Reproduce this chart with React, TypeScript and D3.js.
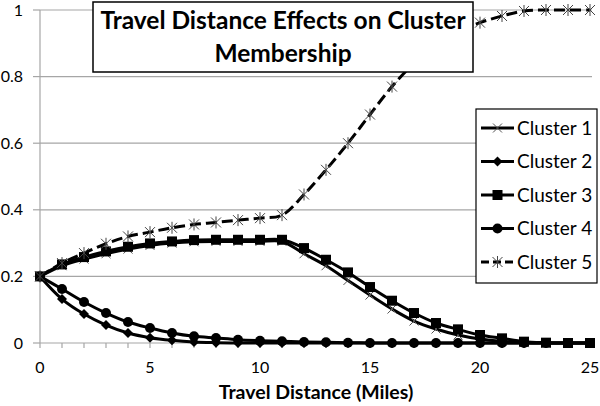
import React from "react";
import * as d3 from "d3";

const distance = d3.range(0, 26);
const cluster1 = [0.2, 0.232, 0.252, 0.268, 0.282, 0.293, 0.3, 0.304, 0.305, 0.305, 0.305, 0.305, 0.268, 0.232, 0.188, 0.144, 0.102, 0.066, 0.042, 0.024, 0.012, 0.005, 0.001, 0, 0, 0];
const cluster2 = [0.2, 0.132, 0.087, 0.054, 0.03, 0.016, 0.008, 0.003, 0.001, 0, 0, 0, 0, 0, 0, 0, 0, 0, 0, 0, 0, 0, 0, 0, 0, 0];
const cluster3 = [0.2, 0.236, 0.258, 0.275, 0.289, 0.299, 0.305, 0.309, 0.31, 0.31, 0.31, 0.31, 0.285, 0.25, 0.212, 0.168, 0.127, 0.09, 0.06, 0.041, 0.024, 0.014, 0.004, 0.001, 0, 0];
const cluster4 = [0.2, 0.162, 0.123, 0.09, 0.063, 0.045, 0.03, 0.02, 0.015, 0.01, 0.007, 0.005, 0.003, 0.002, 0.001, 0, 0, 0, 0, 0, 0, 0, 0, 0, 0, 0];
const cluster5 = [0.2, 0.24, 0.27, 0.298, 0.32, 0.333, 0.346, 0.356, 0.362, 0.369, 0.375, 0.384, 0.446, 0.52, 0.6, 0.686, 0.77, 0.84, 0.893, 0.935, 0.962, 0.982, 0.997, 1, 1, 1];

const seriesNames = ["Cluster 1", "Cluster 2", "Cluster 3", "Cluster 4", "Cluster 5"];
const seriesValues = [cluster1, cluster2, cluster3, cluster4, cluster5];
const markerTypes = ["x", "diamond", "square", "circle", "asterisk"];
const yTicks = [0, 0.2, 0.4, 0.6, 0.8, 1];
const xTickLabels = [0, 5, 10, 15, 20, 25];

const FONT = "Lato, 'Open Sans', sans-serif";
const GRID = "#a6a6a6";

function Marker({ type, x, y }: { type: string; x: number; y: number }) {
  if (type === "x") {
    const s = 4.5;
    return (
      <path d={`M${x - s},${y - s}L${x + s},${y + s}M${x - s},${y + s}L${x + s},${y - s}`} stroke="#555" strokeWidth={1} fill="none" />
    );
  }
  if (type === "asterisk") {
    const s = 5;
    return (
      <path
        d={`M${x - s},${y - s}L${x + s},${y + s}M${x - s},${y + s}L${x + s},${y - s}M${x},${y - s - 1}L${x},${y + s + 1}`}
        stroke="#444"
        strokeWidth={1}
        fill="none"
      />
    );
  }
  if (type === "diamond") {
    const s = 5;
    return <path d={`M${x},${y - s}L${x + s},${y}L${x},${y + s}L${x - s},${y}Z`} fill="#000" />;
  }
  if (type === "square") {
    const s = 5;
    return <rect x={x - s} y={y - s} width={2 * s} height={2 * s} fill="#000" />;
  }
  return <circle cx={x} cy={y} r={5} fill="#000" />;
}

export default function App() {
  const width = 600;
  const height = 406;
  const x = d3.scaleLinear().domain([0, 25]).range([40, 590]);
  const y = d3.scaleLinear().domain([0, 1]).range([343, 10]);

  const line = d3
    .line<number>()
    .x((_, i) => x(distance[i]))
    .y((v) => y(v))
    .curve(d3.curveCatmullRom);

  return (
    <svg width={width} height={height} style={{ position: "absolute", left: 0, top: 0 }} fontFamily={FONT}>
      <rect width={width} height={height} fill="#fff" />
      {/* gridlines */}
      {yTicks.filter((t) => t > 0).map((t) => (
        <line key={t} x1={x(0)} x2={592} y1={y(t)} y2={y(t)} stroke={GRID} strokeWidth={1.2} />
      ))}
      {/* y axis */}
      <line x1={x(0)} x2={x(0)} y1={y(0)} y2={y(1)} stroke={GRID} strokeWidth={1.2} />
      {yTicks.map((t) => (
        <g key={t}>
          <line x1={33} x2={x(0)} y1={y(t)} y2={y(t)} stroke={GRID} strokeWidth={1.2} />
          <text x={23} y={y(t)} dy="0.35em" textAnchor="end" fontSize={16} fill="#000">
            {d3.format("")(t)}
          </text>
        </g>
      ))}
      {/* x axis */}
      <line x1={x(0)} x2={x(25)} y1={y(0)} y2={y(0)} stroke={GRID} strokeWidth={1.2} />
      {distance.map((d) => (
        <line key={d} x1={x(d)} x2={x(d)} y1={y(0)} y2={y(0) + 5} stroke={GRID} strokeWidth={1.2} />
      ))}
      {xTickLabels.map((d) => (
        <text key={d} x={x(d)} y={367} dy="0.35em" textAnchor="middle" fontSize={16} fill="#000">
          {d}
        </text>
      ))}
      <text x={316} y={399} textAnchor="middle" fontSize={19.5} fontWeight="bold" fill="#000">
        Travel Distance (Miles)
      </text>

      {/* series */}
      {seriesValues.map((vals, si) => (
        <g key={si}>
          <path
            d={line(vals) || ""}
            fill="none"
            stroke="#000"
            strokeWidth={3}
            strokeDasharray={si === 4 ? "11,5" : undefined}
          />
          {vals.map((v, i) => (
            <Marker key={i} type={markerTypes[si]} x={x(distance[i])} y={y(v)} />
          ))}
        </g>
      ))}

      {/* title */}
      <rect x={93} y={2} width={380} height={70} fill="#fff" stroke="#000" strokeWidth={1.5} />
      <text x={283} y={29} textAnchor="middle" fontSize={24.5} fontWeight="bold" fill="#000">
        Travel Distance Effects on Cluster
      </text>
      <text x={283} y={62} textAnchor="middle" fontSize={24.5} fontWeight="bold" fill="#000">
        Membership
      </text>

      {/* legend */}
      <rect x={476} y={109} width={121} height={174} fill="#fff" stroke="#000" strokeWidth={1.2} />
      {seriesNames.map((name, i) => {
        const cy = 128 + i * 33.5;
        return (
          <g key={name}>
            <line
              x1={481}
              x2={514}
              y1={cy}
              y2={cy}
              stroke="#000"
              strokeWidth={3}
              strokeDasharray={i === 4 ? "8,4" : undefined}
            />
            <Marker type={markerTypes[i]} x={497.5} y={cy} />
            <text x={517} y={cy} dy="0.35em" fontSize={19} fill="#000">
              {name}
            </text>
          </g>
        );
      })}
    </svg>
  );
}
